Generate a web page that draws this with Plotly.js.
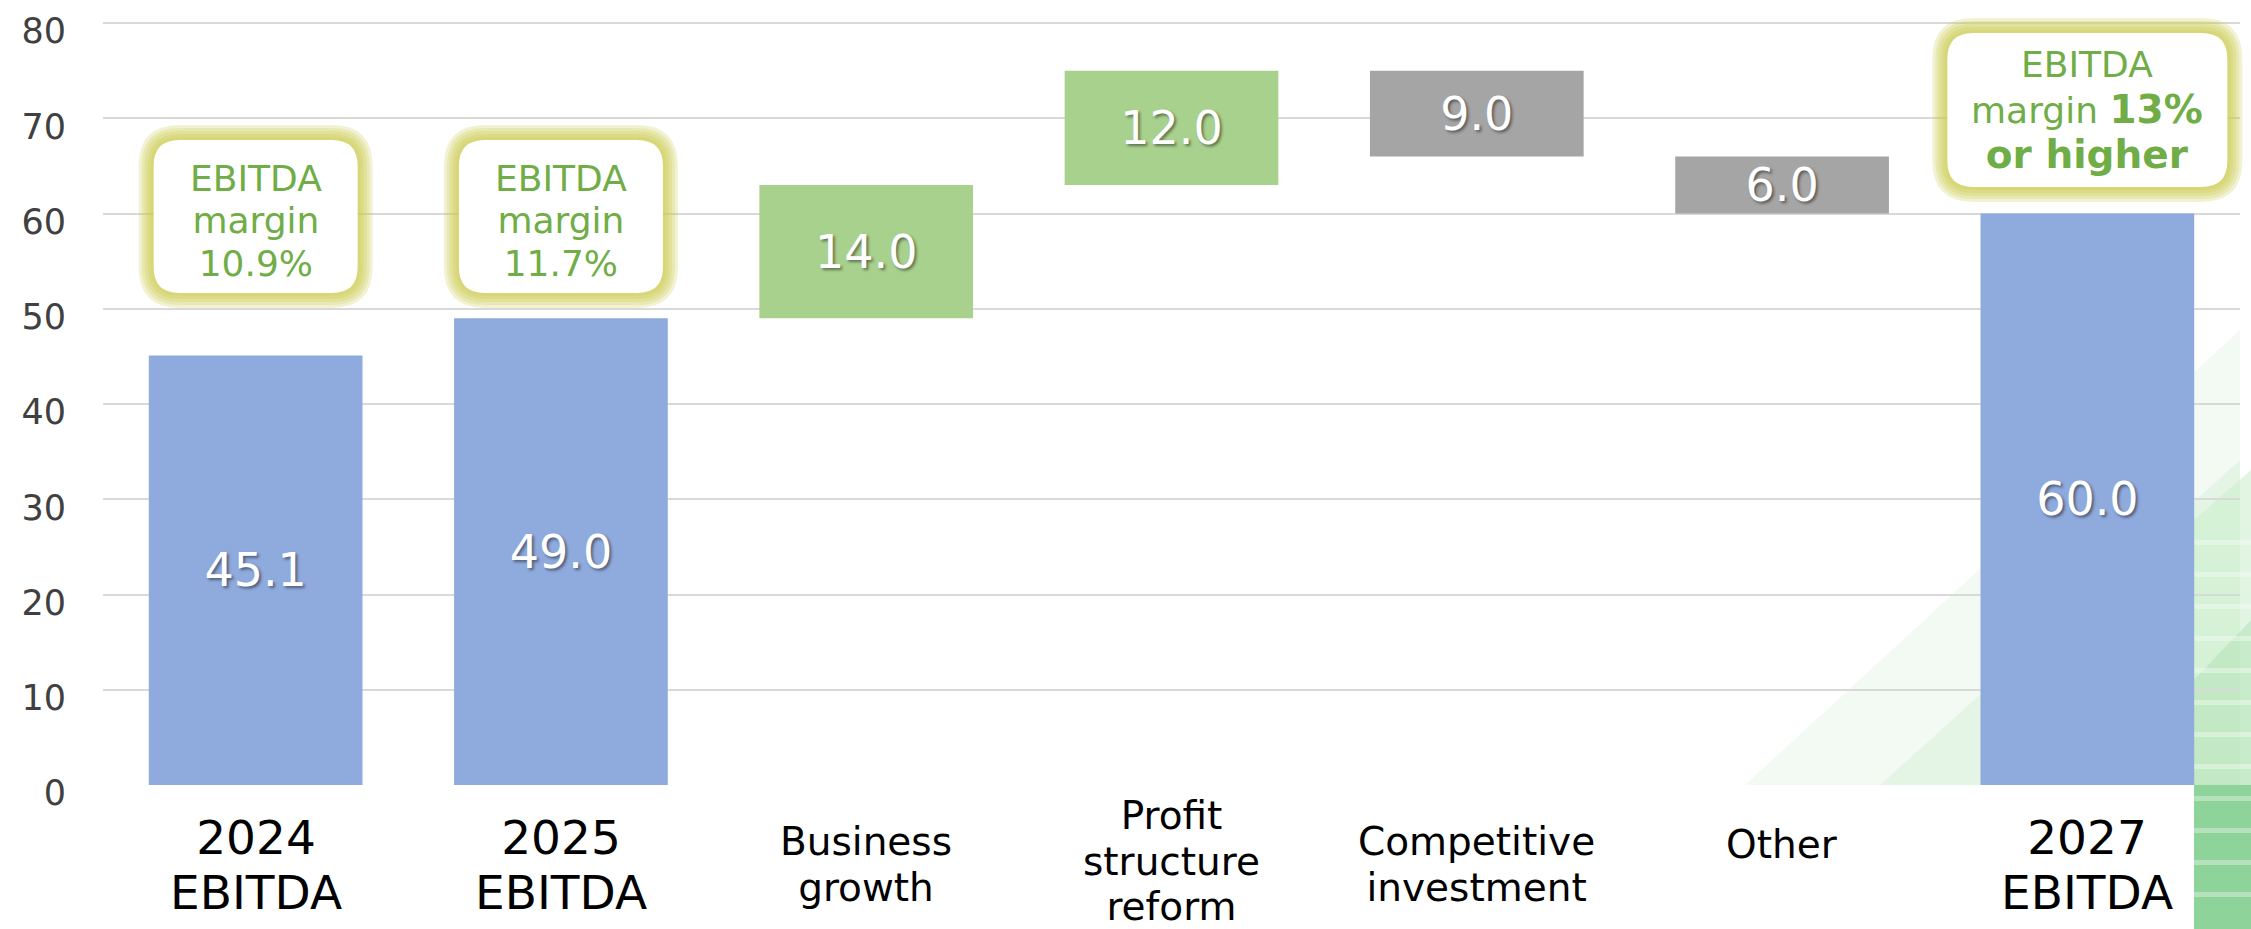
<!DOCTYPE html>
<html>
<head>
<meta charset="utf-8">
<script src="https://cdn.plot.ly/plotly-3.0.1.min.js"></script>
<style>
html,body{margin:0;padding:0;background:#ffffff;}
#chart{width:2251px;height:929px;}
</style>
</head>
<body>
<div id="chart"></div>
<script>
// ---------- DATA ----------
const categories = ['2024 EBITDA', '2025 EBITDA', 'Business growth', 'Profit structure reform', 'Competitive investment', 'Other', '2027 EBITDA'];
const measures = ['absolute', 'absolute', 'relative', 'relative', 'relative', 'relative', 'total'];
const values = [45.1, 49.0, 14.0, 12.0, -9.0, -6.0, 60.0];
const categoryLabelLines = [
  ['2024', 'EBITDA'],
  ['2025', 'EBITDA'],
  ['Business', 'growth'],
  ['Profit', 'structure', 'reform'],
  ['Competitive', 'investment'],
  ['Other'],
  ['2027', 'EBITDA']
];
const yTickValues = [0, 10, 20, 30, 40, 50, 60, 70, 80];
const yTickLabels = ['0', '10', '20', '30', '40', '50', '60', '70', '80'];
const marginNoteIndex = [0, 1, 6];
const marginNoteValues = ['10.9%', '11.7%', '13%'];

// ---------- LAYOUT CONSTANTS ----------
const W = 2251, H = 929;
const M = {l: 103, r: 11, t: 4, b: 144};
const PL = M.l, PR = W - M.r, PT = M.t, PB = H - M.b;
const PW = PR - PL, PH = PB - PT;
const FONT = "'DejaVu Sans', sans-serif";
const GREEN_TXT = '#70ad47';

const px = x => (x - PL) / PW;
const py = y => (PB - y) / PH;
const catCenter = i => PL + (i + 0.5) * PW / categories.length;

function roundRect(x0, y0, x1, y1, r) {
  const P = (x, y) => px(x).toFixed(5) + ',' + py(y).toFixed(5);
  return 'M' + P(x0 + r, y0) + ' L' + P(x1 - r, y0) + ' Q' + P(x1, y0) + ' ' + P(x1, y0 + r) +
    ' L' + P(x1, y1 - r) + ' Q' + P(x1, y1) + ' ' + P(x1 - r, y1) +
    ' L' + P(x0 + r, y1) + ' Q' + P(x0, y1) + ' ' + P(x0, y1 - r) +
    ' L' + P(x0, y0 + r) + ' Q' + P(x0, y0) + ' ' + P(x0 + r, y0) + ' Z';
}
function poly(pts) {
  return 'M' + pts.map(p => px(p[0]).toFixed(5) + ',' + py(p[1]).toFixed(5)).join(' L') + ' Z';
}
function below(path, fill) {
  return {type: 'path', xref: 'paper', yref: 'paper', layer: 'below', line: {width: 0}, fillcolor: fill, path: path};
}

const shapes = [];
// background decoration (bottom right)
shapes.push(below(poly([[1745, PB], [2240, 330], [2240, PB]]), 'rgba(214,240,214,0.30)'));
shapes.push(below(poly([[1880, PB], [2240, 460], [2240, PB]]), 'rgba(200,236,200,0.30)'));
shapes.push(below(poly([[2194, 520], [2251, 470], [2251, PB], [2194, PB]]), 'rgba(200,236,202,0.55)'));
shapes.push(below(poly([[2194, 680], [2251, 620], [2251, PB], [2194, PB]]), 'rgba(170,224,176,0.45)'));
shapes.push(below(poly([[2194, PB], [2251, PB], [2251, H], [2194, H]]), '#8ed399'));
for (let k = 0; k < 12; k++) {
  const yy = 540 + k * 32;
  shapes.push(below(poly([[2194, yy], [2251, yy], [2251, yy + 5], [2194, yy + 5]]), 'rgba(255,255,255,0.35)'));
}

// callout boxes with glow
const boxHalf = [102, 102, 0, 0, 0, 0, 140];
const boxTop = [140, 140, 0, 0, 0, 0, 33];
const boxBot = [293, 293, 0, 0, 0, 0, 187];
marginNoteIndex.forEach(i => {
  const cx = catCenter(i);
  const x0 = cx - boxHalf[i], x1 = cx + boxHalf[i], y0 = boxTop[i], y1 = boxBot[i];
  [15, 12, 9, 6, 3].forEach(g => {
    shapes.push({type: 'path', xref: 'paper', yref: 'paper', line: {width: 0},
      fillcolor: 'rgba(205,205,80,0.25)', path: roundRect(x0 - g, y0 - g, x1 + g, y1 + g, 26 + g)});
  });
  shapes.push({type: 'path', xref: 'paper', yref: 'paper', line: {width: 0},
    fillcolor: '#ffffff', path: roundRect(x0, y0, x1, y1, 26)});
});

const sp = (t, s, b) => (b ? '<b>' : '') + '<span style="font-size:' + s + 'px">' + t + '</span>' + (b ? '</b>' : '');

const annotations = [];
// category labels below the axis
categoryLabelLines.forEach((lines, i) => {
  const isYear = /^\d{4}$/.test(lines[0]);
  const size = isYear ? 47 : 39;
  const base = isYear ? 42.5 : 35;
  let centerY = isYear ? 865 : 864;
  if (lines.length === 3) centerY = 861;
  if (lines.length === 1) centerY = 844;
  annotations.push({
    x: categories[i], xref: 'x', y: 0, yref: 'paper', yanchor: 'middle', xanchor: 'center',
    yshift: -(centerY - PB), showarrow: false, align: 'center',
    font: {family: FONT, size: base, color: '#000000'},
    text: lines.map(l => sp(l, size)).join('<br>')
  });
});

// margin notes
marginNoteIndex.forEach((i, k) => {
  let text, base, cy;
  if (i === 6) {
    text = sp('EBITDA', 36) + '<br>' + sp('margin ', 36) + sp(marginNoteValues[k], 39, true) + '<br>' + sp('or higher', 39, true);
    base = 35; cy = 110;
  } else {
    text = sp('EBITDA', 36) + '<br>' + sp('margin', 36) + '<br>' + sp(marginNoteValues[k], 36);
    base = 32.5; cy = 221;
  }
  annotations.push({
    x: categories[i], xref: 'x', y: py(cy), yref: 'paper', yanchor: 'middle', xanchor: 'center',
    showarrow: false, align: 'center', font: {family: FONT, size: base, color: GREEN_TXT}, text: text
  });
});

const trace = {
  type: 'waterfall',
  x: categories,
  y: values,
  measure: measures,
  text: values.map(v => Math.abs(v).toFixed(1)),
  textinfo: 'text',
  textposition: 'inside',
  insidetextanchor: 'middle',
  textangle: 0,
  constraintext: 'none',
  textfont: {family: FONT, size: 46, color: '#ffffff', shadow: '2px 2px 3px rgba(0,0,0,0.45)'},
  increasing: {marker: {color: '#a9d18e', line: {width: 0}}},
  decreasing: {marker: {color: '#a5a5a5', line: {width: 0}}},
  totals: {marker: {color: '#8faadc', line: {width: 0}}},
  connector: {visible: false},
  hoverinfo: 'skip',
  cliponaxis: false
};

const layout = {
  width: W, height: H,
  margin: M,
  paper_bgcolor: '#ffffff',
  plot_bgcolor: 'rgba(0,0,0,0)',
  showlegend: false,
  waterfallgap: 0.3,
  hovermode: false,
  xaxis: {type: 'category', showticklabels: false, showgrid: false, zeroline: false, showline: false, ticks: ''},
  yaxis: {
    range: [0, 82], tickvals: yTickValues, ticktext: yTickLabels,
    showgrid: true, gridcolor: '#d9d9d9', gridwidth: 2, zeroline: false, showline: false, ticks: '',
    tickfont: {family: FONT, size: 35, color: '#404040'},
    ticklabelstandoff: 36, ticklabelshift: 8
  },
  shapes: shapes,
  annotations: annotations
};

Plotly.newPlot('chart', [trace], layout, {displayModeBar: false, staticPlot: true});
</script>
</body>
</html>
